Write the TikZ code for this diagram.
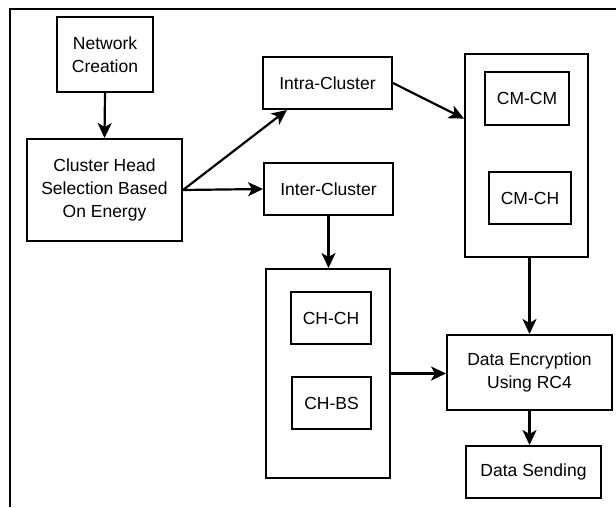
\documentclass[tikz,border=0pt]{standalone}
\usepackage{fontspec}
\setmainfont{Liberation Sans}
\usetikzlibrary{arrows.meta,calc}
\tikzset{
  box/.style={draw,line width=2pt,rectangle,inner sep=0pt,align=center,
    font=\fontsize{17.5}{23}\selectfont},
  conn/.style={draw,line width=2.2pt,-{Stealth[length=15pt,width=14pt,inset=4pt]}}}
\begin{document}
\begin{tikzpicture}[x=1pt,y=-1pt]
\useasboundingbox (0,0) rectangle (616,507);
\fill[white] (0,0) rectangle (616,507);
\coordinate (ftr) at (616,9);
\coordinate (ftl) at (10,9);
\coordinate (fbl) at (10,507);
\draw[line width=2.6pt] (ftr) -- (ftl) -- (fbl);

\node[box,minimum width=96pt,minimum height=75pt] (net) at (105,54.5) {Network\\Creation};
\node[box,minimum width=155pt,minimum height=102pt] (chs) at (104.5,190) {Cluster Head\\Selection Based\\On Energy};
\node[box,minimum width=129pt,minimum height=52pt] (intra) at (327.5,83) {Intra-Cluster};
\node[box,minimum width=129pt,minimum height=52pt] (inter) at (328.5,189) {Inter-Cluster};
\node[box,minimum width=123pt,minimum height=203pt] (cmbox) at (526.5,155.5) {};
\node[box,minimum width=84pt,minimum height=53pt] (cmcm) at (527,98.5) {CM-CM};
\node[box,minimum width=82pt,minimum height=52pt] (cmch) at (530,198) {CM-CH};
\node[box,minimum width=124pt,minimum height=209pt] (chbox) at (328,373.5) {};
\node[box,minimum width=80pt,minimum height=52pt] (chch) at (331,318) {CH-CH};
\node[box,minimum width=79pt,minimum height=52pt] (chbs) at (331.5,403) {CH-BS};
\node[box,minimum width=165pt,minimum height=75pt] (enc) at (529.5,372.5) {Data Encryption\\Using RC4};
\node[box,minimum width=135pt,minimum height=52pt] (send) at (533.5,472) {Data Sending};

\path[conn] (net.south) -- (chs.north);
\path[conn] (chs.east) -- ($(intra.south west)!0.19!(intra.south east)$);
\path[conn] (chs.east) -- (inter.west);
\path[conn] (intra.east) -- ($(cmbox.north west)!0.32!(cmbox.south west)$);
\path[conn] (inter.south) -- (inter.south |- chbox.north);
\path[conn] (enc.north |- cmbox.south) -- (enc.north);
\path[conn] (chbox.east) -- (chbox.east -| enc.west);
\path[conn] (enc.south) -- (enc.south |- send.north);
\end{tikzpicture}
\end{document}
